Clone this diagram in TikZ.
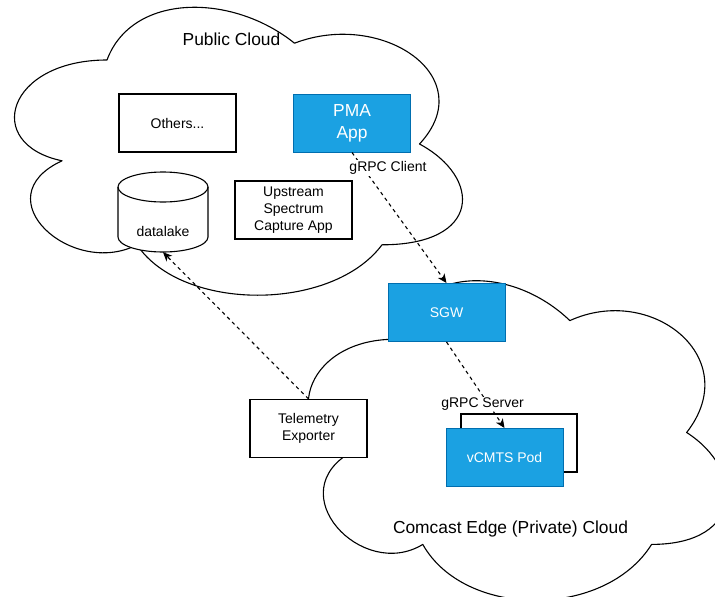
\documentclass[tikz,border=0pt]{standalone}
\usepackage{fontspec}
\setmainfont{Liberation Sans}
\usetikzlibrary{arrows.meta}

\definecolor{appblue}{RGB}{27,161,226}
\definecolor{appedge}{RGB}{0,110,175}

\newcommand{\diagboxfont}{\fontsize{14}{17.3}\selectfont}
\newcommand{\diagtitlefont}{\fontsize{17.4}{22}\selectfont}

\tikzset{
  cloudline/.style={draw=black, fill=white, line width=1.1pt, line join=round},
  plainbox/.style={draw=black, fill=white, line width=1.1pt,
    minimum width=117pt, minimum height=58pt, inner sep=0pt,
    align=center, font=\diagboxfont},
  bluebox/.style={draw=appedge, fill=appblue, text=white, line width=1pt,
    minimum width=117pt, minimum height=58pt, inner sep=0pt,
    align=center, font=\diagboxfont},
  flow/.style={draw=black, line width=1.1pt, dash pattern=on 3.5pt off 3.5pt,
    -{Stealth[length=9pt, width=8pt, inset=2.5pt]}},
  edgelabel/.style={fill=white, inner sep=1pt, font=\diagboxfont},
  cloudtitle/.style={inner sep=0pt, font=\diagtitlefont}
}

\begin{document}
\begin{tikzpicture}[x=1pt, y=-1pt]
  \useasboundingbox (0,0) rectangle (715,597);
  \fill[white] (0,0) rectangle (715,597);
  \clip (0,0) rectangle (715,597);

  % public cloud outline
  \begin{scope}[shift={(-18pt,24pt)}, x=500pt, y=-336pt]
    \draw[cloudline] (0.25,0.25)
      .. controls (0.05,0.25) and (0,0.5) .. (0.16,0.55)
      .. controls (0,0.66) and (0.18,0.9) .. (0.31,0.8)
      .. controls (0.4,1) and (0.7,1) .. (0.8,0.8)
      .. controls (1,0.8) and (1,0.6) .. (0.875,0.5)
      .. controls (1,0.3) and (0.8,0.1) .. (0.625,0.2)
      .. controls (0.5,0.05) and (0.3,0.05) .. (0.25,0.25) -- cycle;
  \end{scope}

  % private edge cloud outline
  \begin{scope}[shift={(278pt,-246pt)}, x=467pt, y=-373pt]
    \draw[cloudline] (0.25,0.25)
      .. controls (0.05,0.25) and (0,0.5) .. (0.16,0.55)
      .. controls (0,0.66) and (0.18,0.9) .. (0.31,0.8)
      .. controls (0.4,1) and (0.7,1) .. (0.8,0.8)
      .. controls (1,0.8) and (1,0.6) .. (0.875,0.5)
      .. controls (1,0.3) and (0.8,0.1) .. (0.625,0.2)
      .. controls (0.5,0.05) and (0.3,0.05) .. (0.25,0.25) -- cycle;
  \end{scope}

  \node[cloudtitle] (pubtitle) at (231.5,39) {Public Cloud};
  \node[cloudtitle] (edgetitle) at (510.5,529) {Comcast Edge (Private) Cloud};

  % public cloud contents
  \node[plainbox] (others) at (177.5,123) {Others...};
  \node[bluebox, font=\diagtitlefont] (pma) at (352,123) {PMA\\App};
  \node[plainbox] (uscapp) at (293.5,210) {Upstream\\Spectrum\\Capture App};

  % datalake cylinder
  \node[minimum width=90pt, minimum height=80pt, inner sep=0pt] (datalake) at (163,212) {};
  \draw[line width=1.1pt, fill=white] (118,187) -- (118,237)
    arc[start angle=180, end angle=360, x radius=45pt, y radius=15pt]
    -- (208,187)
    arc[start angle=0, end angle=180, x radius=45pt, y radius=15pt] -- cycle;
  \draw[line width=1.1pt] (118,187)
    arc[start angle=180, end angle=360, x radius=45pt, y radius=15pt];
  \node[inner sep=0pt, font=\diagboxfont] (dltext) at (163,231) {datalake};

  % edge cloud contents
  \node[bluebox] (sgw) at (446.5,312.5) {SGW};
  \node[plainbox] (telemetry) at (308.5,428.5) {Telemetry\\Exporter};
  \node[plainbox, minimum width=116pt] (podstack) at (519,443) {};
  \node[bluebox] (vcmts) at (504.5,457.5) {vCMTS Pod};

  % connectors
  \draw[flow] (pma.south) -- (sgw.north);
  \draw[flow] (sgw.south) -- (vcmts.north);
  \draw[flow] (telemetry.north) -- (datalake.south);

  \node[edgelabel] (clientlbl) at (388,168) {gRPC Client};
  \node[edgelabel] (serverlbl) at (482.5,404) {gRPC Server};
\end{tikzpicture}
\end{document}
